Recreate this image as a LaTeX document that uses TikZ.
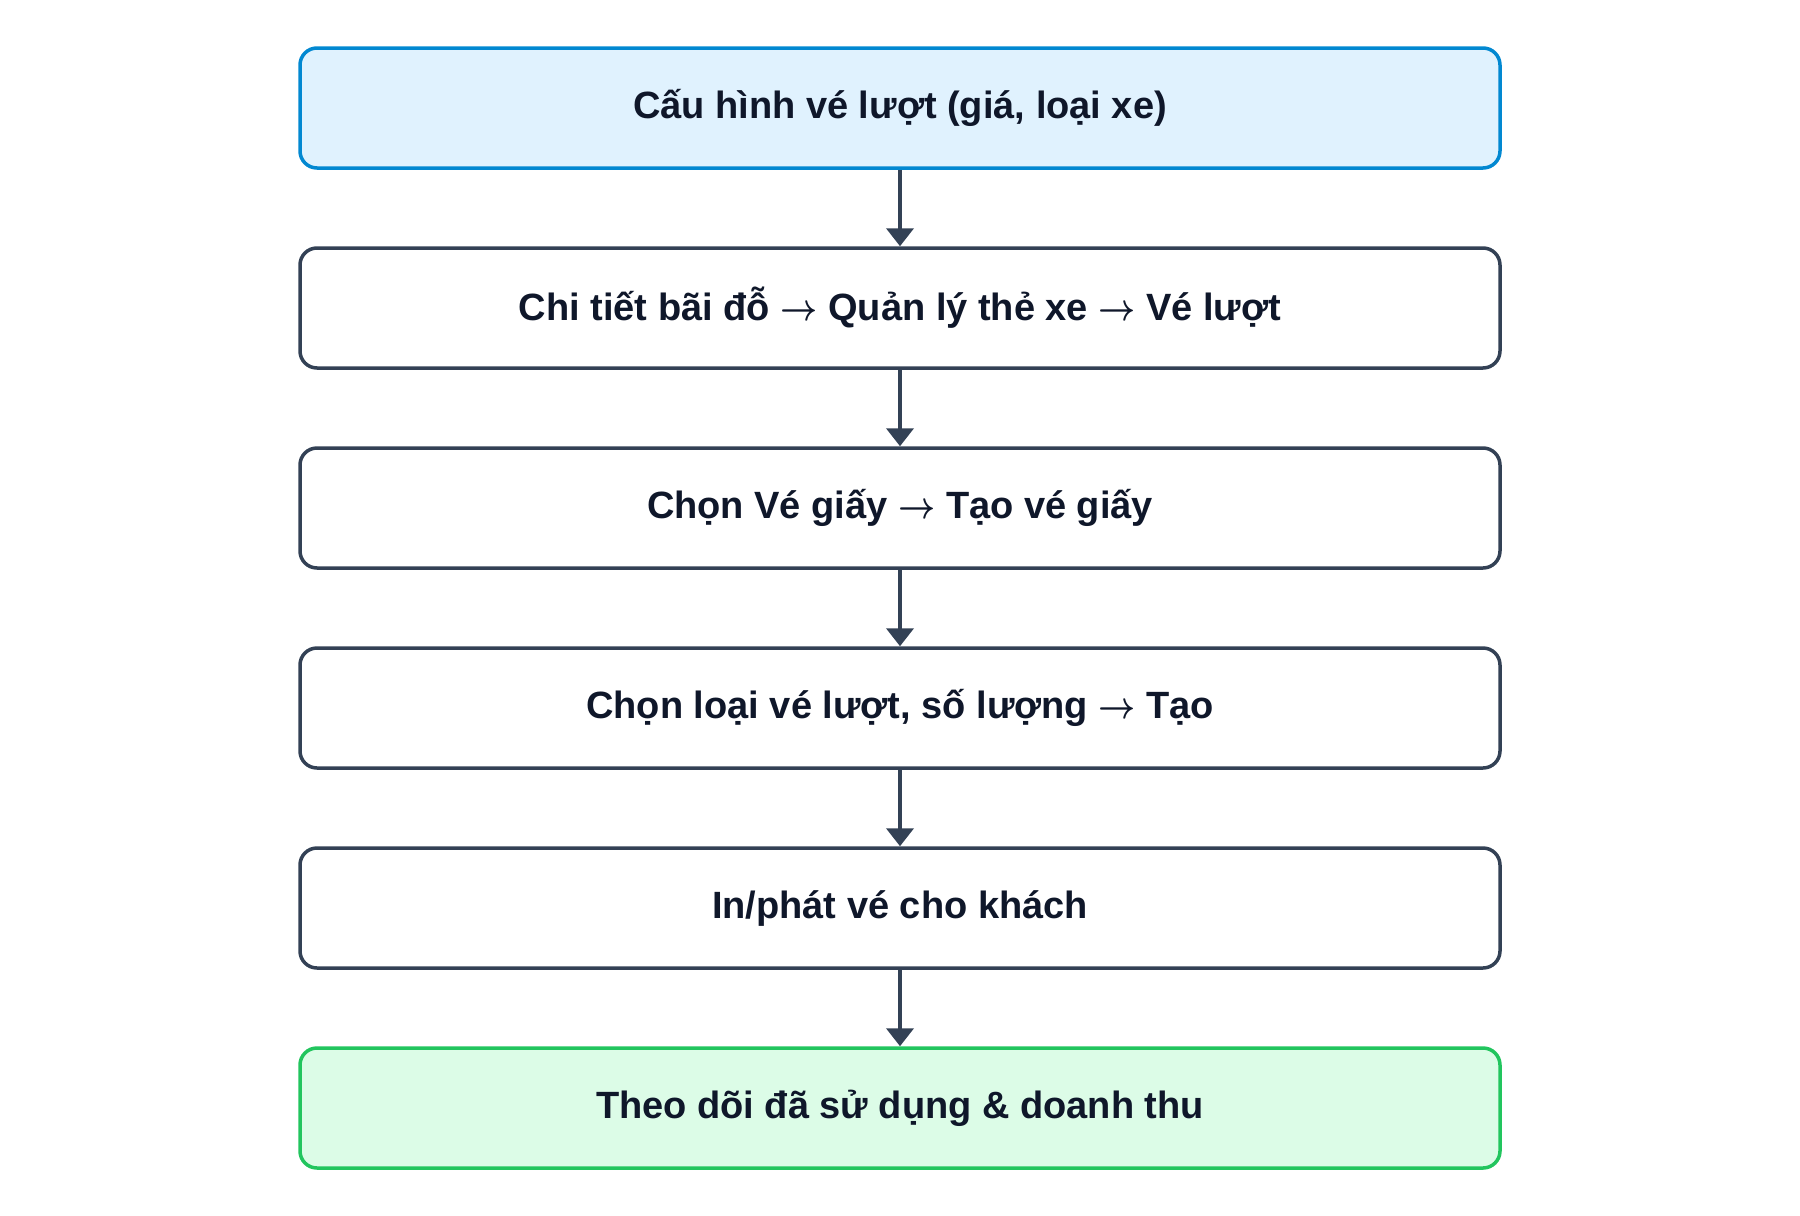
\documentclass[tikz,border=0pt]{standalone}
\usepackage{fix-cm}
\usepackage{graphicx}
\usepackage{fontspec}
\setmainfont{Liberation Sans}
\usetikzlibrary{arrows.meta}
\definecolor{txt}{HTML}{0F172A}
\definecolor{slate}{HTML}{334155}
\definecolor{bluefill}{HTML}{E0F2FE}
\definecolor{blueline}{HTML}{0288D1}
\definecolor{greenfill}{HTML}{DCFCE7}
\definecolor{greenline}{HTML}{22C55E}
\newcommand{\ra}{\scalebox{0.85}[1]{\boldmath$\rightarrow$}}
\begin{document}
\begin{tikzpicture}[x=1pt,y=-1pt,
  stepbox/.style={draw=slate, fill=white, line width=3.5pt, rounded corners=17pt,
    minimum width=1200pt, minimum height=120pt, inner sep=0pt,
    text=txt, font=\fontsize{38}{46}\selectfont\bfseries},
  startbox/.style={stepbox, draw=blueline, fill=bluefill},
  endbox/.style={stepbox, draw=greenline, fill=greenfill},
  flow/.style={draw=slate, line width=4pt, -{Triangle[width=27pt,length=18pt]}}]
\useasboundingbox (0,0) rectangle (1800,1216);
\node[startbox] (n1) at (900,108) {Cấu hình vé lượt (giá, loại xe)};
\node[stepbox] (n2) at (900,308) {Chi tiết bãi đỗ \ra{} Quản lý thẻ xe \ra{} Vé lượt};
\node[stepbox] (n3) at (900,508) {Chọn Vé giấy \ra{} Tạo vé giấy};
\node[stepbox] (n4) at (900,708) {Chọn loại vé lượt, số lượng \ra{} Tạo};
\node[stepbox] (n5) at (900,908) {In/phát vé cho khách};
\node[endbox] (n6) at (900,1108) {Theo dõi đã sử dụng \& doanh thu};
\draw[flow] (n1.south) -- (n2.north);
\draw[flow] (n2.south) -- (n3.north);
\draw[flow] (n3.south) -- (n4.north);
\draw[flow] (n4.south) -- (n5.north);
\draw[flow] (n5.south) -- (n6.north);
\end{tikzpicture}
\end{document}
